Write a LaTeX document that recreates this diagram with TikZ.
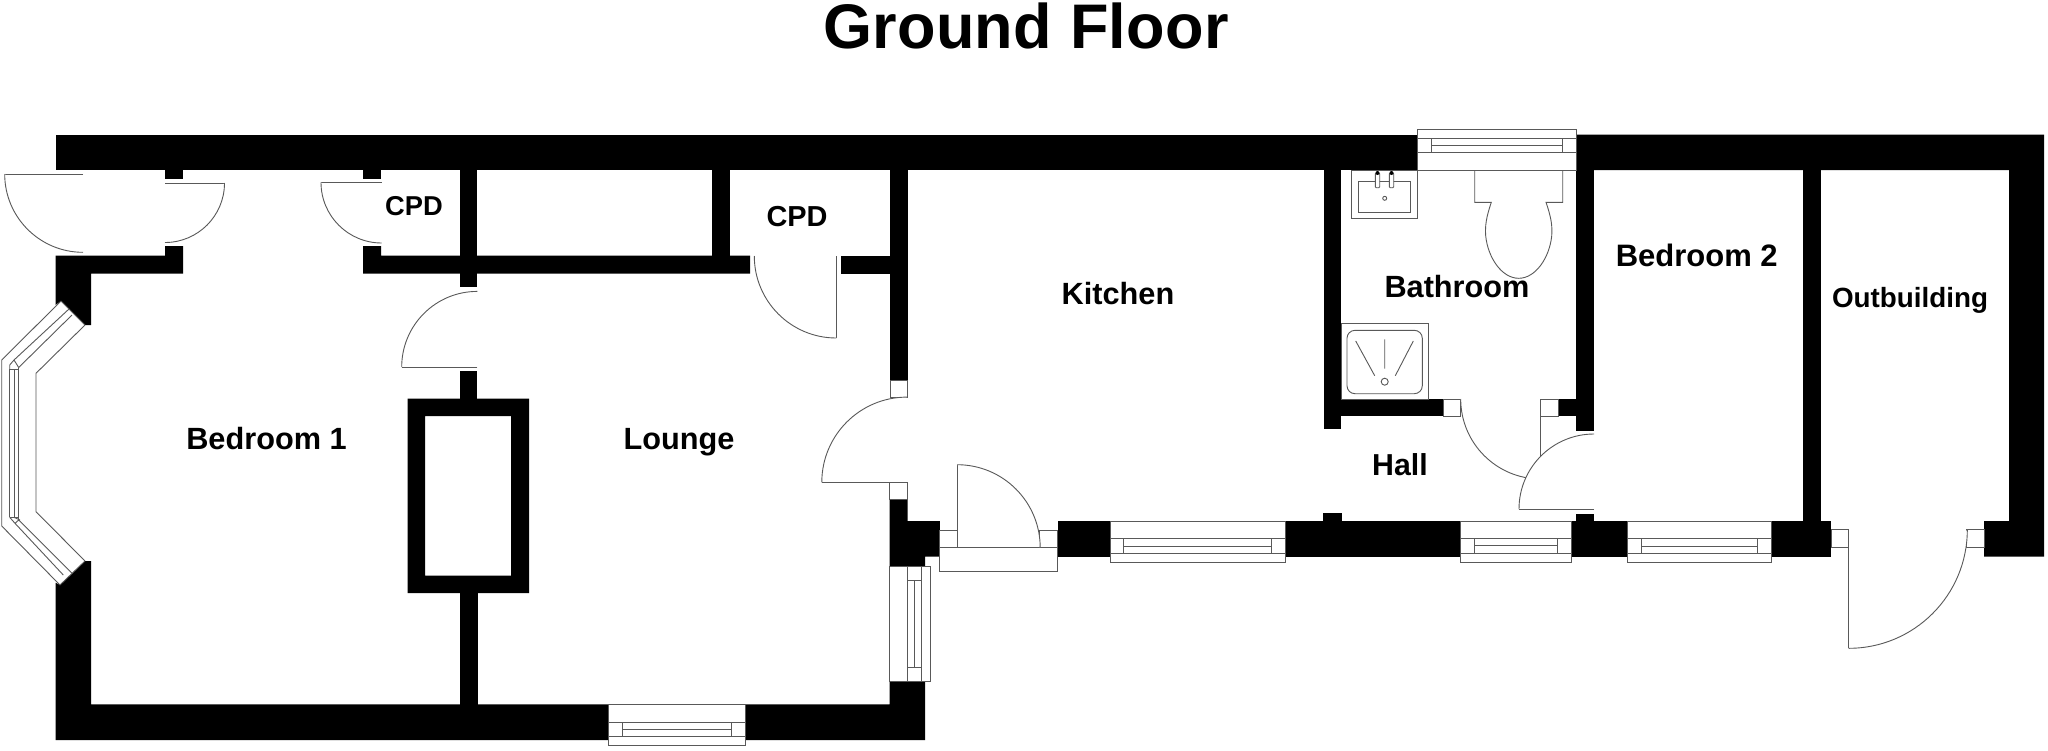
\documentclass[tikz,border=0pt]{standalone}
\usepackage{fontspec}
\setmainfont{Liberation Sans}
\newcommand{\lblsize}[1]{\fontsize{#1}{#1}\selectfont\bfseries}
% horizontal window: x1 x2 ytop yl1 ymid yl2 ybot sash1 sash2
\newcommand{\hwin}[9]{%
  \filldraw[fixture] (#1,#3) rectangle (#2,#7);
  \draw[fixture] (#1,#4) -- (#2,#4) (#1,#6) -- (#2,#6)
    (#8,#4) -- (#8,#6) (#9,#4) -- (#9,#6) (#8,#5) -- (#9,#5);
}
% door arc: centre x, centre y, radius, start, end angle (y axis points down)
\newcommand{\swing}[5]{%
  \draw[fixture] ({#1+#3*cos(#4)},{#2+#3*sin(#4)}) arc[start angle=#4,end angle=#5,radius=#3];
}
\tikzset{
  wall/.style={fill=black,draw=none},
  fixture/.style={draw=black!65,line width=0.9pt,fill=white},
  linework/.style={draw=black!65,line width=0.9pt},
  lbl/.style={anchor=base,inner sep=0pt,text=black}
}
\begin{document}
\begin{tikzpicture}[x=1pt,y=-1pt]
\useasboundingbox[fill=white] (0,0) rectangle (2048,750);

% ---- walls ----
\fill[wall] (55.5,134.7) rectangle (1418,170);
\fill[wall] (1576,134.7) -- (2044,134.7) -- (2044,556.7) -- (1984,556.7) -- (1984,521) -- (2009,521) -- (2009,170) -- (1576,170) -- cycle;
\fill[wall] (165,170) rectangle (183,179);
\fill[wall] (363,170) rectangle (381,179);
% upper-left wall stub
\fill[wall] (55.5,255.7) -- (165,255.7) -- (165,246) -- (183,246) -- (183,273.7) -- (91,273.7) -- (91,325) -- (85,325) -- (61,301) -- (55.5,305) -- cycle;
% lower-left and bottom wall
\fill[wall] (55.5,582.7) -- (60,585) -- (85,561) -- (91,561) -- (91,704.3) -- (889.7,704.3) -- (889.7,681.7) -- (925,681.7) -- (925,740) -- (55.5,740) -- cycle;
% partition between Bedroom 1 and Lounge
\fill[wall] (363,246) -- (381,246) -- (381,255.7) -- (750,255.7) -- (750,273.7) -- (363,273.7) -- cycle;
\fill[wall] (460,170) rectangle (477.3,287);
\fill[wall] (460,371) rectangle (477.3,399);
\fill[wall] (712.3,170) rectangle (730,256);
\fill[wall] (840.7,255.7) rectangle (890,273.7);
\fill[wall] (890,170) rectangle (907.7,380);
\fill[wall] (459.6,593) rectangle (477.6,705);
% chimney breast
\fill[wall,even odd rule] (407.6,398.7) rectangle (529,593) (425,416) rectangle (511,575.7);
% junction Lounge / front wall
\fill[wall] (889.7,499.7) -- (907.6,499.7) -- (907.6,521) -- (939.8,521) -- (939.8,556.7) -- (925,556.7) -- (925,566.3) -- (889.7,566.3) -- cycle;
% front wall
\fill[wall] (1057.8,521) rectangle (1830,556.7);
\fill[wall] (1771,521) rectangle (1831.3,556.7);
\fill[wall] (1323.3,513) rectangle (1341.7,522);
\fill[wall] (1576,514) rectangle (1594,522);
\fill[wall] (1802.7,170) rectangle (1820.7,522);
% bathroom walls
\fill[wall] (1323.7,170) rectangle (1341.3,428.7);
\fill[wall] (1341,399) rectangle (1443.3,416.3);
\fill[wall] (1576,170) rectangle (1594,430.7);
\fill[wall] (1558.3,399) rectangle (1577,416.3);

% ---- windows ----
\hwin{1417.3}{1576.7}{129.3}{138.3}{145.3}{152.7}{170}{1431.3}{1562.7}
\hwin{1110}{1285}{521}{538.7}{546}{553}{562.3}{1123.9}{1271}
\hwin{1460.3}{1571.3}{521}{538.7}{545.7}{553}{562.3}{1474.3}{1557.3}
\hwin{1627.3}{1771.3}{521}{538.7}{546}{553.3}{562.3}{1641.3}{1757.3}
\hwin{608}{745.3}{704.3}{722.3}{729.3}{736.3}{745.3}{622}{731.7}
% side window of the Lounge
\filldraw[fixture] (889.7,566.3) rectangle (930.6,681.7);
\draw[linework] (907.6,566.3) -- (907.6,681.7) (921.4,566.3) -- (921.4,681.7)
  (914,580) -- (914,667.3) (907.6,580) -- (921.4,580) (907.6,667.3) -- (921.4,667.3);
% bay window
\draw[linework] (61,301) -- (1.7,360) -- (1.7,526) -- (60,585);
\draw[linework] (85,325) -- (36,373.3) -- (36,511.7) -- (85,561);
\draw[linework] (61,301) -- (85,325) (60,585) -- (85,561);
\draw[linework] (69,309) -- (14,360) -- (9.7,365) -- (9.7,369) (14,360) -- (18.7,367.5) -- (72,315);
\draw[linework] (9.7,369) -- (18.7,369);
\draw[linework] (9.7,369) -- (9.7,517.3) (14,369) -- (14,517.3) (18.7,367.5) -- (18.7,520);
\draw[linework] (9.7,517.3) -- (18.7,517.3);
\draw[linework] (9.7,517.3) -- (15,523.3) -- (63.3,575) (15,523.3) -- (18.7,520) -- (71.7,573) (14,517.3) -- (20,520);

% ---- doors ----
\draw[linework] (83,174) -- (4.7,174); \swing{83}{174}{78.3}{180}{90}
\draw[linework] (165,183) -- (224.5,183); \swing{165}{183}{59.5}{0}{90}
\draw[linework] (381.7,182.3) -- (321,182.3); \swing{381.7}{182.3}{60.7}{180}{90}
\draw[linework] (477.3,367) -- (401.7,367); \swing{477.3}{367}{75.6}{180}{270}
\draw[linework] (836.3,256) -- (836.3,338.3); \swing{836.3}{256}{82}{90}{180}
\filldraw[fixture] (890,380) rectangle (907.7,397);
\filldraw[fixture] (889.7,482.3) rectangle (907.6,499.7);
\draw[linework] (889.7,482.3) -- (821.8,482.3); \swing{907}{482.3}{85.2}{180}{270}
% entrance door
\filldraw[fixture] (939.8,547.7) rectangle (1057.8,571);
\filldraw[fixture] (939.8,530) rectangle (957.2,547.7);
\filldraw[fixture] (1039.9,530) rectangle (1057.8,547.7);
\draw[linework] (957.2,547.7) -- (957.2,464.7); \swing{957.2}{547.7}{83}{270}{360}
% bathroom and Bedroom 2 doors
\filldraw[fixture] (1443.3,399) rectangle (1460.7,416.3);
\filldraw[fixture] (1540.7,399) rectangle (1558.3,416.3);
\draw[linework] (1540.7,416.3) -- (1540.7,479); \swing{1540.7}{399}{80}{90}{180}
\draw[linework] (1594,509) -- (1518.7,509); \swing{1594}{509}{75}{180}{270}
% outbuilding door
\filldraw[fixture] (1831.3,529.7) rectangle (1848.7,547.7);
\filldraw[fixture] (1966.3,529.7) rectangle (1984,547.7);
\draw[linework] (1848.7,547.7) -- (1848.7,648.3); \swing{1848.7}{529.7}{118.6}{90}{0}

% ---- sanitary ware ----
\draw[linework] (1351.7,170) rectangle (1417.3,218.7);
\draw[linework] (1358.3,181.3) rectangle (1410.7,212);
\filldraw[fixture,rounded corners=1pt] (1375.3,173) rectangle (1379.7,187.7);
\filldraw[fixture,rounded corners=1pt] (1389.3,173) rectangle (1393.7,187.7);
\fill[black] (1377.5,173) circle[radius=2];
\fill[black] (1391.5,173) circle[radius=2];
\draw[linework] (1384.7,198.3) circle[radius=2];
\draw[linework] (1474.7,170) -- (1474.7,202.3) -- (1491.3,202.3) .. controls (1486,218) and (1485,226) .. (1485.7,236) .. controls (1488,258) and (1502,278.3) .. (1518.7,278.3) .. controls (1535.4,278.3) and (1549.4,258) .. (1551.7,236) .. controls (1552.4,226) and (1551.4,218) .. (1546,202.3) -- (1562.7,202.3) -- (1562.7,170);
\draw[linework] (1341.3,323.7) rectangle (1428.3,399);
\draw[linework,rounded corners=8pt] (1347,330.3) rectangle (1422.3,393.7);
\draw[linework] (1355.7,341) -- (1374.7,375.7) (1384.7,339.3) -- (1384.7,368.7) (1413.3,341) -- (1395.3,375.7);
\draw[linework] (1384.7,381.7) circle[radius=3.5];

% ---- labels ----
\node[lbl] (title) at (1026,48) {\lblsize{63}\addfontfeature{LetterSpace=0.5}Ground Floor};
\node[lbl] (bed1) at (266.5,449.5) {\lblsize{30.7}Bedroom 1};
\node[lbl] (lounge) at (679,449.5) {\lblsize{30.7}Lounge};
\node[lbl] (kitchen) at (1118,304.5) {\lblsize{30.7}Kitchen};
\node[lbl] (cpda) at (414,215) {\lblsize{27.3}CPD};
\node[lbl] (cpdb) at (797,226.7) {\lblsize{28.9}CPD};
\node[lbl] (bath) at (1457,297.3) {\lblsize{30.7}Bathroom};
\node[lbl] (hall) at (1400,475) {\lblsize{30.3}Hall};
\node[lbl] (bed2) at (1696.7,266.7) {\lblsize{31}Bedroom 2};
\node[lbl] (outb) at (1910,307.7) {\lblsize{27.8}Outbuilding};
\end{tikzpicture}
\end{document}
